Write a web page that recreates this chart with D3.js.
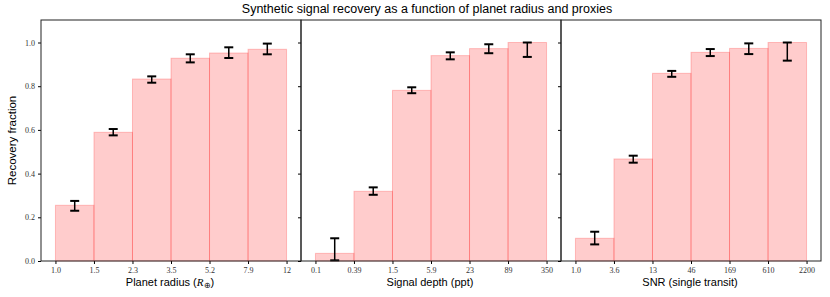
<!DOCTYPE html>
<html>
<head>
<meta charset="utf-8">
<script src="https://cdn.jsdelivr.net/npm/d3@7"></script>
<style>
  body { margin: 0; background: #fff; }
  .tick text { font-family: "Liberation Serif", serif; font-size: 8px; fill: #333; }
</style>
</head>
<body>
<div class="chart"></div>
<script>
// bin edge labels and recovery rates
const radiusTicks = ["1.0", "1.5", "2.3", "3.5", "5.2", "7.9", "12"];
const radiusRate = [0.255, 0.589, 0.833, 0.928, 0.952, 0.969];
const radiusLo = [0.230, 0.575, 0.816, 0.909, 0.929, 0.946];
const radiusHi = [0.275, 0.604, 0.845, 0.946, 0.978, 0.995];

const depthTicks = ["0.1", "0.39", "1.5", "5.9", "23", "89", "350"];
const depthRate = [0.035, 0.319, 0.781, 0.940, 0.972, 1.0];
const depthLo = [0.003, 0.303, 0.768, 0.923, 0.951, 0.934];
const depthHi = [0.104, 0.337, 0.795, 0.955, 0.992, 1.0];

const snrTicks = ["1.0", "3.6", "13", "46", "169", "610", "2200"];
const snrRate = [0.104, 0.467, 0.859, 0.955, 0.973, 1.0];
const snrLo = [0.076, 0.450, 0.843, 0.938, 0.947, 0.917];
const snrHi = [0.134, 0.482, 0.870, 0.970, 0.996, 1.0];

const yTicks = [0, 0.2, 0.4, 0.6, 0.8, 1.0];

const panels = [
    {ticks: radiusTicks, rate: radiusRate, lo: radiusLo, hi: radiusHi, label: "radius"},
    {ticks: depthTicks, rate: depthRate, lo: depthLo, hi: depthHi, label: "Signal depth (ppt)"},
    {ticks: snrTicks, rate: snrRate, lo: snrLo, hi: snrHi, label: "SNR (single transit)"}
];

const width = 830, height = 297;
const margin = {left: 41, top: 20, bottom: 261};
const panelW = 260;

const svg = d3.select(".chart")
    .append("svg")
    .attr("width", width)
    .attr("height", height)
    .attr("viewBox", [0, 0, width, height]);

const y = d3.scaleLinear().domain([0, 1.103]).range([margin.bottom, margin.top]);

svg.append("text")
    .attr("x", 427).attr("y", 13)
    .attr("text-anchor", "middle")
    .style("font-family", "Liberation Sans, sans-serif")
    .style("font-size", "12.5px")
    .text("Synthetic signal recovery as a function of planet radius and proxies");

svg.append("text")
    .attr("transform", `translate(16,${(margin.top + margin.bottom) / 2}) rotate(-90)`)
    .attr("text-anchor", "middle")
    .style("font-family", "Liberation Sans, sans-serif")
    .style("font-size", "11.5px")
    .text("Recovery fraction");

panels.forEach((p, k) => {
    const x0 = margin.left + k * panelW;
    const x = d3.scaleLinear().domain([-0.375, 6.375]).range([x0, x0 + panelW]);
    const g = svg.append("g");

    const bins = p.rate.map((r, i) => ({i, r, lo: p.lo[i], hi: p.hi[i]}));

    g.selectAll("rect.bar")
        .data(bins)
        .join("rect")
        .attr("class", "bar")
        .attr("x", d => x(d.i))
        .attr("width", d => x(d.i + 1) - x(d.i))
        .attr("y", d => y(d.r))
        .attr("height", d => y(0) - y(d.r))
        .attr("fill", "#ff0000")
        .attr("fill-opacity", 0.2)
        .attr("stroke", "#ff0000")
        .attr("stroke-opacity", 0.22)
        .attr("stroke-width", 1);

    // error bars
    const eb = g.selectAll("g.err")
        .data(bins)
        .join("g")
        .attr("class", "err");
    eb.append("line")
        .attr("x1", d => x(d.i + 0.5)).attr("x2", d => x(d.i + 0.5))
        .attr("y1", d => y(d.lo)).attr("y2", d => y(d.hi))
        .attr("stroke", "#000").attr("stroke-width", 1.5);
    eb.selectAll("line.cap")
        .data(d => [{i: d.i, v: d.lo}, {i: d.i, v: d.hi}])
        .join("line")
        .attr("class", "cap")
        .attr("x1", d => x(d.i + 0.5) - 4.5).attr("x2", d => x(d.i + 0.5) + 4.5)
        .attr("y1", d => y(d.v)).attr("y2", d => y(d.v))
        .attr("stroke", "#000").attr("stroke-width", 2);

    // axes
    const xAxis = d3.axisBottom(x)
        .tickValues(d3.range(7))
        .tickFormat(i => p.ticks[i])
        .tickSize(3).tickPadding(3);
    g.append("g")
        .attr("transform", `translate(0,${margin.bottom})`)
        .call(xAxis)
        .call(a => a.select(".domain").remove());

    const yAxis = d3.axisLeft(y)
        .tickValues(yTicks)
        .tickFormat(k === 0 ? d3.format(".1f") : "")
        .tickSize(3).tickPadding(3);
    g.append("g")
        .attr("transform", `translate(${x0},0)`)
        .call(yAxis)
        .call(a => a.select(".domain").remove());

    g.append("rect")
        .attr("x", x0).attr("y", margin.top)
        .attr("width", panelW).attr("height", margin.bottom - margin.top)
        .attr("fill", "none")
        .attr("stroke", "#222").attr("stroke-width", 1);

    const lab = g.append("text")
        .attr("x", x0 + panelW / 2 - 1).attr("y", 286)
        .attr("text-anchor", "middle")
        .style("font-family", "Liberation Sans, sans-serif")
        .style("font-size", "11px");
    if (p.label === "radius") {
        lab.append("tspan").text("Planet radius (");
        lab.append("tspan").style("font-family", "Liberation Serif, serif").style("font-style", "italic").text("R");
        lab.append("tspan").attr("dy", 2).style("font-size", "7.5px").text("⊕");
        lab.append("tspan").attr("dy", -2).text(")");
    } else {
        lab.text(p.label);
    }
});
</script>
</body>
</html>
